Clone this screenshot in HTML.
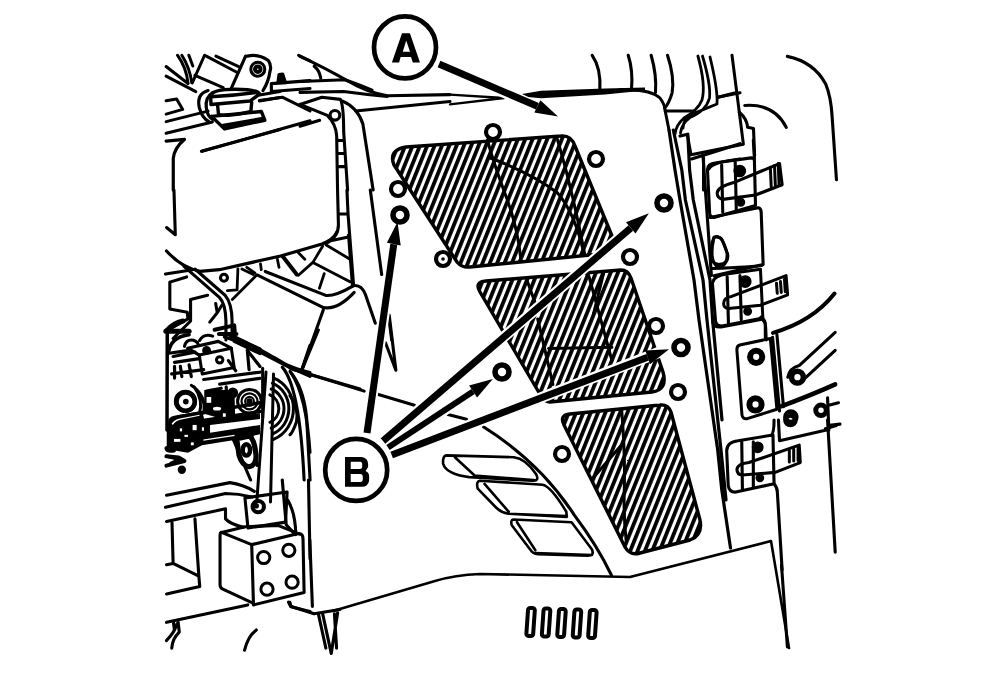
<!DOCTYPE html>
<html><head><meta charset="utf-8"><style>
html,body{margin:0;padding:0;background:#fff;width:992px;height:687px;overflow:hidden}
svg{display:block}
path,line,circle,ellipse,polyline,polygon,rect{vector-effect:non-scaling-stroke}
</style></head><body>
<svg width="992" height="687" viewBox="0 0 992 687">
<defs>
<pattern id="h" patternUnits="userSpaceOnUse" width="6.8" height="20" patternTransform="rotate(22)"><rect x="0" y="0" width="3.8" height="20" fill="#000"/></pattern>
</defs>
<g fill="none" stroke="#000" stroke-width="3.1" stroke-linecap="round" stroke-linejoin="round">
<!-- hatched regions -->
<g id="hatch" stroke-width="3.4">
<path fill="url(#h)" d="M406,147 L561,136 Q571,135 575,146 L612,236 Q616,252 600,254 L470,267 Q462,268 457,262 L394,165 Q388,150 406,147 Z"/>
<path fill="url(#h)" d="M486,281 L621,270 Q628,270 631,278 L663,372 Q668,390 652,392 L550,402 Q545,402 541,396 L480,292 Q474,282 486,281 Z"/>
<path fill="url(#h)" d="M570,414 L660,405 Q668,404 671,412 L700,520 Q703,535 690,540 L640,553 Q630,556 625,547 L564,425 Q559,415 570,414 Z"/>
</g>
<!-- panel outline -->
<path stroke-width="2.4" d="M450,94.6 L504,98 M450,104.4 L504,98"/>
<path fill="#000" stroke="none" d="M522,94 L541,90.8 L605,88.6 L645,87.6 L645,90.6 L605,94.4 L541,98.2 L528,97 Z"/>
<path stroke-width="3" d="M620,89.5 L630,90 Q651,90 660,98 Q665,105 665,110 L669,130"/>
<path stroke-width="2.6" d="M333,611 L435,581 Q455,575 480,574 L630,577 L771,541 L789,648"/>

<!-- holes -->
<g stroke-width="2.8">
<circle cx="493" cy="132" r="7" stroke-width="4.2"/>
<circle cx="596" cy="159" r="7" stroke-width="4.2"/>
<circle cx="398" cy="189" r="7" stroke-width="4.2"/>
<circle cx="400" cy="215" r="7" stroke-width="5.6"/>
<circle cx="443" cy="259" r="7" stroke-width="4.2"/><circle cx="443" cy="259" r="1.8" fill="#000" stroke="none"/>
<circle cx="664" cy="203" r="7" stroke-width="5.6"/>
<circle cx="630" cy="257" r="7" stroke-width="4.2"/>
<circle cx="656" cy="326" r="7" stroke-width="4.2"/>
<circle cx="681" cy="347.5" r="7" stroke-width="5.6"/>
<circle cx="678" cy="392" r="7" stroke-width="4.2"/>
<circle cx="502" cy="372" r="7" stroke-width="5.6"/>
<circle cx="562" cy="454" r="7" stroke-width="4.2"/>
</g>
<!-- slots -->
<g stroke-width="4"><rect x="527.2" y="608.0" width="6.8" height="28" rx="2.2" transform="rotate(4 530.6 622.0)"/><rect x="542.7" y="608.5" width="6.8" height="28" rx="2.2" transform="rotate(4 546.1 622.5)"/><rect x="558.1" y="609.0" width="6.8" height="28" rx="2.2" transform="rotate(4 561.5 623.0)"/><rect x="573.6" y="609.5" width="6.8" height="28" rx="2.2" transform="rotate(4 577.0 623.5)"/><rect x="589.0" y="610.0" width="6.8" height="28" rx="2.2" transform="rotate(4 592.4 624.0)"/></g>

<g transform="translate(160,40) scale(0.218341)">
<path d="M510,200 L687,186 M510,236 L687,222 M510,200 L510,236"/>
<path d="M540,196 L545,158 L562,156 L575,196 Z" fill="#000"/>
<path d="M455,277 L560,262 L687,325"/>
<path d="M190,510 L687,370"/>
<path d="M635,70 L687,96"/>
</g><g transform="translate(160,50) scale(0.174672)">
<path d="M35,95 L160,192 M35,150 L205,238"/>
<path d="M100,30 Q150,100 160,188 M125,30 Q170,100 182,188 M165,30 L188,92 M255,30 L185,188" stroke-width="3"/>
<path d="M200,145 L362,215 M265,35 L445,130 M320,35 L460,100" stroke-width="3"/>
<path d="M490,35 L410,215 M630,120 Q622,180 590,232 M500,35 Q560,20 620,60 Q640,90 630,120" stroke-width="3.2"/>
<circle cx="560" cy="110" r="40" stroke-width="3"/><circle cx="560" cy="110" r="16" stroke-width="4"/>
<path d="M290,262 Q300,225 430,225 Q565,225 570,252 L515,292 L292,312 Z M292,268 Q420,262 560,242" stroke-width="3.4"/>
<path d="M330,318 L335,370 Q420,382 520,352 L525,300" stroke-width="3.4"/>
<path d="M295,380 L370,452 L600,402 L580,352 L295,380 M362,432 L590,392" stroke-width="3.4"/>
<path d="M275,232 Q208,252 225,330 Q240,390 282,412 M300,245 Q258,270 265,330 Q270,380 302,397" stroke-width="3.2"/>
<path d="M35,290 L95,280 L130,340 L35,367" stroke-width="3"/>
<path d="M35,410 L275,350 M35,477 L300,412" stroke-width="3"/>
<path d="M570,292 L687,272 M570,258 L687,238" stroke-width="3"/>
<path d="M240,580 L687,455" stroke-width="3"/>
<path d="M35,522 L140,512 Q82,560 76,620 L76,802" stroke-width="3.2"/>
</g><g transform="translate(300,40) scale(0.218341)">
<path d="M0,75 Q100,120 220,188 Q300,238 400,255 L687,250 M65,120 Q90,140 95,175"/>
<path d="M0,190 L205,182 Q260,200 330,230 M0,240 L200,236 Q300,250 400,258"/>
<path d="M200,275 L687,285" stroke-width="0"/>
<path d="M255,325 L687,282"/>
<path d="M195,280 Q265,310 288,385 L335,687"/>
<path d="M0,295 L100,262 L185,272 Q200,300 200,420 L218,687"/>
<path d="M0,295 L125,345 Q165,385 168,440 L172,687"/>
<path d="M172,460 L198,460 M175,520 L200,520 M180,580 L205,580"/>
<circle cx="160" cy="345" r="22"/>
<path d="M0,395 L90,368"/>
</g><g transform="translate(160,190) scale(0.218341)">
<path d="M64,0 L70,205 L30,172"/>

<path d="M25,385 L150,365"/>
<path d="M110,350 L272,492 Q300,520 302,600 L302,687 M160,362 L298,482 Q330,520 330,600 L330,660"/>
<circle cx="293" cy="402" r="16"/>


<path d="M45,422 L122,398 M45,422 L45,545 L125,560 L128,590 L40,640 M140,502 L218,482 M140,502 L140,600 L60,680"/>
<path d="M30,645 Q60,610 105,600" stroke-width="5"/>
<path d="M228,605 L262,562 L282,530 M255,520 L262,560"/>
<path d="M250,640 L340,620 L345,687 M270,660 L350,660" stroke-width="4"/>
</g><g transform="translate(300,190) scale(0.218341)">
<path d="M172,0 L176,160 Q176,215 120,244 M215,0 L220,110 L245,432 M178,110 L220,110 M140,232 L222,215"/>

<path d="M245,438 Q282,432 300,480 L345,610"/>

<path d="M322,0 L374,387"/>
<path d="M405,570 L420,687"/>
</g><g transform="translate(160,480) scale(0.218341)">
<path d="M30,70 L320,12 Q380,20 432,52 M25,125 L300,62 Q360,62 420,78"/>
<path d="M30,190 L300,132 L300,178 Q322,202 382,216"/>
<path d="M282,240 L420,296 L428,565 L288,500 Q275,495 275,480 L275,255 Q275,240 282,240 Z"/>
<path d="M420,296 L635,245 Q655,245 655,270 L660,515 L428,572"/>
<path d="M282,240 L390,214 L540,208 L640,248"/>
<g stroke-width="3"><circle cx="475" cy="355" r="28"/><circle cx="590" cy="322" r="28"/><circle cx="490" cy="500" r="28"/><circle cx="605" cy="468" r="28"/></g>
<path d="M389,82 L582,55 L575,193 L403,220 Z"/>
<circle cx="450" cy="122" r="26" stroke-width="4"/><circle cx="440" cy="118" r="6" fill="#000"/>

<path d="M560,0 L578,205 L610,240 M585,92 Q620,150 622,250"/>
<path d="M680,0 L687,360"/>
<path d="M55,195 L60,382 L178,440 L182,488 L30,522 M30,388 L60,382 M160,178 L178,440"/>
<path d="M30,652 L402,572 M595,560 L600,580 L687,602"/>
<path d="M62,655 L66,687"/>
</g><g transform="translate(160,540) scale(0.214031)">
<path d="M30,470 Q70,430 80,390 M55,505 Q58,460 90,430 L85,385"/>
<path d="M395,515 Q410,450 450,420"/>
<path d="M740,345 L775,505 M760,345 L800,530 L830,340 M815,345 L825,505"/>
<path d="M600,290 L610,310 L720,345 L841,325"/>
<path d="M700,0 L712,310"/>
</g><g transform="translate(290,330) scale(0.218341)">
<path d="M130,0 L55,182"/>
<path d="M0,175 L340,280 M405,295 L570,345"/>
<path d="M0,190 Q62,262 76,400 L92,687 M0,300 Q42,360 30,420 Q12,470 0,480"/>
</g><g transform="translate(340,250) scale(0.189394)">
<path d="M260,345 L295,635 M240,490 L295,635"/>
</g><g transform="translate(590,40) scale(0.218341)">
<path d="M10,70 Q52,130 45,232 M175,70 Q198,140 190,228 M280,70 Q306,160 300,240 M355,70 Q388,170 376,242 Q362,290 342,312"/>
<path d="M345,325 L480,325"/>


<path d="M585,262 L687,242"/>
<path d="M465,545 L687,475 M520,540 L520,687 M545,590 Q560,560 687,545"/>
</g><g transform="translate(700,40) scale(0.218341)">
<path d="M400,75 Q520,100 575,200 Q600,260 605,350 L625,640"/>
<path d="M205,300 Q340,290 395,400"/>
<path d="M180,330 Q215,360 218,400 L245,405 L250,530"/>
</g><g transform="translate(690,140) scale(0.218341)">
<path d="M290,0 L295,85"/>
<path d="M60,78 L98,620"/>
<path d="M80,135 Q80,108 120,104 L280,82 Q295,82 295,95 L300,300 L110,355 Q92,355 90,335 Z"/>
<path d="M92,355 L312,310 Q325,312 326,330 L335,570 L110,622"/>
<path d="M125,240 Q128,215 200,195 L410,108 L422,205 L300,252 L150,272 Q122,266 125,240 Z"/>
<path d="M145,115 L150,330 M207,100 L212,322"/>
<circle cx="228" cy="142" r="22" fill="#000"/><circle cx="232" cy="285" r="14" fill="#000"/>
<path d="M368,125 L372,215 M387,117 L391,210 M404,108 L408,205" stroke-width="3"/>
<path d="M120,442 Q150,440 170,520 Q172,580 130,580 Q96,572 100,482 Q105,442 120,442 Z" stroke-width="3"/>
</g><g transform="translate(690,280) scale(0.218341)">

<path d="M105,195 Q110,218 142,215 L330,180 M325,170 Q345,182 345,205 L345,265"/>
<path d="M228,298 L368,268 L398,592 L262,635 Q240,638 238,618 L215,325 Q213,302 228,298 Z" stroke-width="3"/>
<path d="M378,262 L410,600 M398,250 L428,580"/>
<circle cx="303" cy="352" r="28" stroke-width="6"/><circle cx="300" cy="570" r="28" stroke-width="6"/>
<path d="M662,62 Q560,190 380,242" stroke-width="4"/>
<path d="M448,445 Q455,405 500,392 L665,240 M505,470 L665,322"/>
<circle cx="492" cy="445" r="27" stroke-width="5.5"/>
<path d="M420,578 Q560,525 665,478" stroke-width="4.5"/>
<circle cx="462" cy="627" r="24" stroke-width="5"/><circle cx="600" cy="597" r="24" stroke-width="5"/>
<path d="M630,540 L636,687 M640,572 L680,562 M640,665 L687,660"/>
</g><g transform="translate(690,420) scale(0.218341)">

<path d="M168,140 Q170,100 220,95 L372,70 Q385,60 385,0 M168,140 L175,300 Q180,332 210,330 L385,292 L380,68"/>
<path d="M215,225 Q220,200 270,195 L500,115 L505,195 L390,240 L240,252 Q215,250 215,225 Z"/>
<path d="M237,100 L240,315 M290,100 L290,305"/>
<circle cx="310" cy="125" r="20" fill="#000"/><circle cx="320" cy="265" r="13" fill="#000"/>
<path d="M455,140 L455,192 M475,133 L475,188 M495,126 L495,185" stroke-width="3"/>
<path d="M405,0 L410,95 L630,45 M630,0 L665,605 M620,40 L670,25"/>
<circle cx="460" cy="0" r="22" stroke-width="5"/>
<path d="M385,292 Q400,310 400,330 L422,687"/>
</g><g transform="translate(200,240) scale(0.232897)">
<path d="M245,150 L530,290 Q590,302 662,225 M280,135 L540,238 Q580,242 652,200"/>
<path d="M530,298 L440,552"/>

<path d="M140,420 L400,556 L687,640"/>
</g><g transform="translate(470,125) scale(0.218341)">
<path d="M80,70 Q110,180 170,340 Q220,480 232,610 M90,150 Q280,220 400,310 Q480,400 522,590 M400,65 Q440,200 470,330 Q500,460 525,590" stroke-width="3"/>
</g><g transform="translate(470,260) scale(0.218295)">
<path d="M545,75 L650,460 M612,60 L565,250 M360,405 L650,400 M310,270 L380,570 M260,90 L300,200" stroke-width="3"/>
</g><g transform="translate(550,395) scale(0.247295)">
<path d="M290,62 Q305,250 300,400 Q298,500 308,590 M175,335 L295,195" stroke-width="3"/>
</g><g transform="translate(430,410) scale(0.262123)">
<path d="M205,65 Q420,200 550,400 Q640,520 692,630"/>
<path d="M62,173 L320,180 Q365,185 405,245 Q418,272 392,270 L150,256 Q62,246 50,205 Q48,175 62,173 Z M95,180 L168,248 M168,250 L405,268" stroke-width="2.6"/>
<path d="M190,270 L430,285 Q462,292 520,388 L522,408 L300,396 Q272,392 252,372 L182,300 Q175,272 190,270 Z M208,282 L300,388 M300,396 L522,405" stroke-width="2.6"/>
<path d="M318,418 L540,428 L618,532 Q628,556 602,556 L412,550 Q392,550 382,532 L312,440 Q306,420 318,418 Z M332,428 L402,535 M402,546 L618,553" stroke-width="2.6"/>
</g><g transform="translate(690,230) scale(0.160116)">
<path d="M150,45 Q190,40 200,60 L235,150 Q245,210 180,215 Q135,210 135,170 Q135,110 150,45 Z" stroke-width="3"/>
<path d="M138,240 Q400,232 450,220"/>
<path d="M140,330 Q150,285 230,275 L440,245 L455,550 L200,600 Q165,600 160,570 Z" stroke-width="3"/>
<path d="M210,460 Q210,420 260,415 L600,285 L610,405 L440,470 L240,490 Q210,485 210,460 Z" stroke-width="3"/>
<path d="M232,290 L240,580 M312,285 L320,560"/>
<circle cx="345" cy="322" r="30" fill="#000"/><circle cx="360" cy="508" r="18" fill="#000"/>
<path d="M540,332 L545,395 M565,322 L570,390 M590,307 L595,385" stroke-width="3"/>
<path d="M455,560 Q472,580 472,600 L476,687"/>
</g><g transform="translate(160,330) scale(0.145560)">
<path d="M50,0 L48,687" stroke-width="3.5"/>
<path d="M40,8 L200,8" stroke-width="5"/>
<path d="M58,155 Q75,45 200,32" stroke-width="3.5"/>
<path d="M168,112 Q180,62 230,70 Q262,82 262,102 M272,72 Q300,22 362,42"/>
<path d="M190,125 L400,78 L490,125 L270,172 Z" stroke-width="3.2"/>
<circle cx="320" cy="140" r="20" fill="#000"/>
<path d="M90,182 L240,152 M60,160 L200,140 M100,222 L270,197 M80,302 L300,272 M100,250 L100,330 M140,250 L150,320 M200,240 L215,320" stroke-width="3.2"/>
<path d="M270,172 L290,302 L510,257 L490,125" stroke-width="3"/>
<path d="M480,40 L687,130 M510,78 L687,162 M600,140 L687,250 M600,140 L612,272 M470,210 L520,280" stroke-width="3.2"/>
<circle cx="410" cy="205" r="22" stroke-width="3"/>
<circle cx="175" cy="490" r="68" stroke-width="3.5"/><circle cx="175" cy="490" r="20" fill="#000"/>
<path d="M235,390 Q300,480 270,580 M215,380 Q320,450 300,570" stroke-width="3"/>
<circle cx="615" cy="490" r="82" stroke-width="3"/><circle cx="615" cy="490" r="55" stroke-width="2.2"/><circle cx="615" cy="490" r="30" stroke-width="2.2"/><circle cx="615" cy="490" r="10" fill="#000"/>
<circle cx="500" cy="432" r="26" fill="#000"/>
<path d="M455,390 L460,610 M300,340 L687,290 M410,372 L687,332 M320,420 L420,400 M330,470 L420,460 M360,545 L420,535" stroke-width="3.2"/>
<path d="M70,620 Q80,600 120,598 L687,500 M90,655 L687,560" stroke-width="3.5"/>
</g><g transform="translate(160,330) scale(0.218341)">
<path d="M295,32 Q420,70 530,130 Q610,180 687,212 M340,30 Q450,80 560,150 Q620,180 687,195 M650,180 L687,70"/>
<path d="M470,175 L470,400" stroke-width="3"/>




<path d="M560,170 Q640,260 660,687 M600,195 Q670,300 687,560"/>
<path d="M335,500 L415,687 M420,482 L445,620"/>
<path d="M30,540 L90,522 M40,580 L110,600 M50,610 L95,590"/>
<circle cx="100" cy="640" r="12" fill="#000"/>
</g><g transform="translate(0,0) scale(1.000000)">
<path d="M266,372 L257,499 M273.5,374 L270.5,502" stroke-width="3"/>
<path d="M781.5,565 L787.4,647 M448,414.5 L466.5,419.2"/>
<path d="M166.5,251 Q182,268 200,271.3 L219.4,269.7 L280.6,256 L322,244 Q333,240 337,232" stroke-width="3.2"/>
<path d="M237.9,268.9 L237.1,289.8 M241.9,268.9 L253.2,274.5 M246.8,267.3 L254.8,272.9 M260.5,264 L261.3,269.7 M277.4,259.2 L279,267.3 M298.4,252.7 L304.8,259.2 M322.6,246.3 L312.9,262.4 L298.4,275.3 M324.2,273.7 L319.4,288.2 M325.8,244.7 L350,259.2 M312.9,262.4 L350,281.8 M348.4,235 L352.4,286.6 M256.5,275.3 L232.3,299.5 M227.4,290.6 L237.1,289.8" stroke-width="2.8"/>
<path d="M283,256.8 L296.8,274.5" stroke-width="4"/>
<path d="M269.9,394.9 A14,14.7 0 0 1 269.9,422.3 M271.2,389.0 A20,21.0 0 0 1 271.2,428.2 M272.4,383.2 A26,27.3 0 0 1 272.4,434.0 M273.5,377.8 A31.5,33.1 0 0 1 273.5,439.4" stroke-width="3"/>
<path d="M669,130 L675,170 L680,200 L694,280 L699,320 L717.7,450 L721.8,490 L730.5,548 M673.3,130 L681.8,170 L685.4,200 L703,280 L707,320 L721,450 L726,500 M680,136 L687.8,134.2 L689.6,170 L693.3,200 L710,280 L712.6,320 L722,420" stroke-width="3.2"/>
<path d="M732,55.2 L743.4,144.3 L691,154.8 M687.5,135.6 L691,154.8 M718,97.2 L735.5,92.8" stroke-width="3"/>
<path d="M697.9,56 Q706,85 702,100 Q698,110 684,118 Q676,125 675,134 M702.5,56 Q711,85 709.5,98 Q706,111 690,117.5 Q682,123 680.5,133 M710,57 Q718,90 717,104 L691,114.6 Q684,118 683,128" stroke-width="2.8"/>
</g><g transform="translate(160,390) scale(0.116414)">
<path fill="#000" stroke="none" d="M58,300 Q80,232 160,215 L360,180 L380,250 L859,200 L859,380 L640,430 L360,475 L240,540 L100,515 L58,485 Z"/>
<path fill="#fff" stroke="none" d="M430,300 L859,250 L859,300 L430,368 Z M372,425 L640,385 L640,395 L372,437 Z M100,290 Q120,255 170,245 L340,212 L340,222 L175,255 Q130,265 110,300 Z"/>
<g fill="#fff" stroke="none"><rect x="170" y="330" width="20" height="25"/><rect x="280" y="300" width="35" height="45"/><rect x="120" y="420" width="55" height="25"/><rect x="265" y="450" width="25" height="25"/><rect x="210" y="385" width="30" height="18"/><rect x="360" y="320" width="18" height="30"/></g>
<path fill="#000" stroke="none" d="M380,0 L640,0 L645,235 L520,245 L380,205 Z"/>
<g fill="#fff" stroke="none"><ellipse cx="490" cy="160" rx="35" ry="16"/><rect x="400" y="60" width="40" height="50"/><rect x="540" y="200" width="25" height="30"/></g>
<circle cx="220" cy="100" r="78" fill="#fff" stroke-width="4.5"/><circle cx="222" cy="100" r="24" fill="#000" stroke="none"/>
<path d="M55,500 Q60,530 120,520 M55,570 L160,580 L210,610 L55,650" stroke-width="4"/>
<path d="M660,420 L770,395 Q815,430 825,560 Q825,650 765,660 Q705,650 678,560 Z" stroke-width="5"/><ellipse cx="742" cy="515" rx="32" ry="48" stroke-width="4.5"/>
</g>
<!-- arrows -->
<g stroke="#fff" stroke-linecap="butt">
<path d="M446,67 L552,113.5" stroke-width="11"/>
<path d="M369,418 L396,232" stroke-width="11"/>
<path d="M393,432 L640,220" stroke-width="11"/>
<path d="M398,441 L484,385" stroke-width="10"/>
<path d="M402,451 L660,352" stroke-width="11"/>
</g>
<g stroke-linecap="butt">
<path d="M439,64 L537.4,106.3" stroke-width="7"/>
<polygon fill="#000" stroke="none" points="558,116.5 534.3,112.4 540.4,100.2"/>
<path d="M367,433 L393.8,244.2" stroke-width="7"/>
<polygon fill="#000" stroke="none" points="397.5,222 386.9,242.7 400.7,245.6"/>
<path d="M383,441 L630.8,228" stroke-width="7"/>
<polygon fill="#000" stroke="none" points="648.9,213.2 626,222.3 635.5,233.6"/>
<path d="M388,447.6 L473.1,391.5" stroke-width="6"/>
<polygon fill="#000" stroke="none" points="492.8,379.1 469.1,385.5 477.1,397.5"/>
<path d="M391.7,455 L647.7,357.3" stroke-width="7"/>
<polygon fill="#000" stroke="none" points="669,349.3 645.3,350.4 650,364.2"/>
</g>
<!-- callouts -->
<circle cx="405" cy="47.4" r="31" stroke-width="4.7" fill="#fff"/>
<path fill="#000" stroke="none" fill-rule="evenodd" d="M402,33.2 L409.9,33.2 L420,62.6 L412.8,62.6 L411,57.1 L400.6,57.1 L399.1,62.6 L391.9,62.6 Z M406.2,40.5 L402.8,51.8 L410,51.8 Z"/>
<circle cx="356.2" cy="469.9" r="31" stroke-width="4.7" fill="#fff"/>
<path fill="#000" stroke="none" fill-rule="evenodd" d="M345,457 L361.5,457 Q368.1,458 368.1,464 L368.1,467 L365.6,470.9 Q369.1,472.5 369.1,476 L369.1,480.7 Q368,486.8 362,486.8 L345,486.8 Z M350.7,461.7 L360.5,461.7 Q362.2,462 362.2,464 L362.2,467 Q362,469 360,469 L350.7,469 Z M350.7,473.9 L361,473.9 Q362.8,474.5 362.8,476.5 L362.8,480 Q362.5,482 360.5,482 L350.7,482 Z"/>

</g>
</svg>
</body></html>
